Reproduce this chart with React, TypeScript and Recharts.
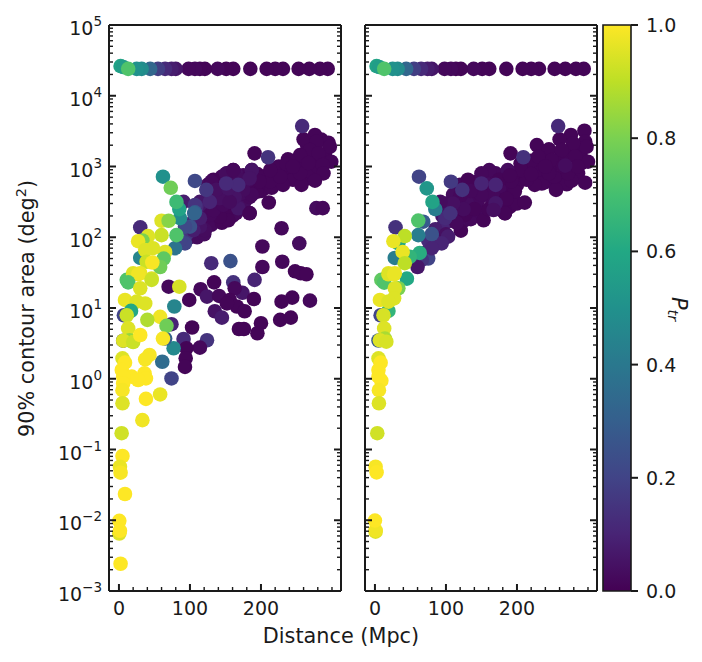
import React from "react";
import { ScatterChart, Scatter, XAxis, YAxis, ReferenceArea } from "recharts";

type Row = [number, number, number]; // distance Mpc, area deg2, P_tr

const topBand: Row[] = [
  [294, 24000, 0.01], [283, 24000, 0.01], [268, 24000, 0.01], [253, 24000, 0.01], [231, 24000, 0.01], [220, 24000, 0.01], [208, 24000, 0.01],
  [185, 24000, 0.01], [161, 24000, 0.01], [151, 24000, 0.01], [139, 24000, 0.02], [121, 24000, 0.01], [114, 24000, 0.01], [107, 24000, 0.02],
  [98, 24000, 0.02], [80, 24000, 0.06], [74, 24000, 0.08], [65, 24000, 0.12], [55, 24000, 0.18], [44, 24000, 0.33], [32, 24000, 0.48],
  [25, 24000, 0.5], [2.3, 26300, 0.58], [6, 25500, 0.55], [13, 24000, 0.72],
];

const leftFill: Row[] = [
  [120, 250, 0.03], [130, 350, 0.03], [140, 550, 0.02], [150, 650, 0.03], [160, 600, 0.04], [175, 750, 0.02], [185, 560, 0.02], [195, 780, 0.01], [205, 720, 0.01],
  [225, 850, 0.01], [240, 800, 0.01], [145, 720, 0.02], [165, 780, 0.04], [125, 370, 0.05], [110, 175, 0.04], [100, 100, 0.05], [135, 330, 0.03], [178, 330, 0.02],
  [150, 450, 0.05], [165, 480, 0.06], [180, 600, 0.03], [120, 200, 0.04], [135, 170, 0.02], [245, 1200, 0.01], [270, 1500, 0.01], [285, 1200, 0.01], [265, 2000, 0.01],
  [285, 2400, 0.01], [220, 650, 0.01], [245, 650, 0.01], [265, 680, 0.01], [270, 850, 0.01], [280, 1000, 0.01], [205, 490, 0.01], [160, 200, 0.02], [150, 195, 0.02],
  [125, 550, 0.03], [140, 400, 0.04], [115, 250, 0.06], [105, 170, 0.1], [130, 150, 0.02], [145, 160, 0.01], [110, 100, 0.03], [120, 110, 0.03], [95, 110, 0.15],
  [200, 450, 0.01], [215, 500, 0.01], [180, 480, 0.02], [190, 650, 0.02], [165, 420, 0.05], [155, 600, 0.04], [175, 580, 0.03], [150, 330, 0.04], [165, 220, 0.02],
  [175, 300, 0.03], [240, 1000, 0.01], [255, 1150, 0.01], [290, 1500, 0.01], [275, 1900, 0.01], [260, 1200, 0.01], [225, 1000, 0.01],
];

const leftUpper: Row[] = [
  [260, 2420, 0.01], [276, 2790, 0.01], [295, 2170, 0.01], [297, 1900, 0.01], [278, 2240, 0.01], [269, 1710, 0.01], [281, 1535, 0.01],
  [299, 1170, 0.01], [287, 1050, 0.01], [288, 800, 0.01], [255, 1450, 0.01], [238, 1260, 0.01], [236, 1085, 0.01], [191, 1535, 0.01],
  [276, 630, 0.01], [257, 550, 0.01], [231, 550, 0.01], [213, 615, 0.01], [255, 800, 0.01], [227, 718, 0.01], [245, 1000, 0.01],
  [267, 1120, 0.01], [213, 890, 0.01], [187, 890, 0.03], [161, 890, 0.02], [152, 800, 0.02], [133, 650, 0.01], [278, 258, 0.03],
  [287, 258, 0.02], [211, 310, 0.01], [184, 220, 0.01], [194, 440, 0.01], [198, 615, 0.01], [170, 650, 0.03], [152, 370, 0.04],
  [168, 270, 0.04], [138, 243, 0.03], [151, 243, 0.01], [184, 370, 0.02], [161, 370, 0.06], [172, 420, 0.03], [138, 440, 0.03],
  [154, 174, 0.01], [142, 195, 0.01], [128, 207, 0.02], [133, 243, 0.02], [147, 286, 0.02], [168, 257, 0.06], [184, 218, 0.01],
  [187, 398, 0.02], [175, 468, 0.03], [130, 611, 0.02], [151, 794, 0.03], [161, 890, 0.02], [187, 890, 0.05], [184, 676, 0.05],
  [163, 372, 0.05], [142, 355, 0.04], [156, 316, 0.03], [137, 468, 0.04], [154, 490, 0.05], [121, 126, 0.03], [114, 141, 0.05],
  [105, 126, 0.08], [114, 186, 0.08], [114, 316, 0.06], [91, 316, 0.08], [128, 316, 0.1], [168, 550, 0.12], [151, 575, 0.12],
  [123, 468, 0.16], [107, 625, 0.22], [109, 270, 0.12], [258, 3730, 0.12], [210, 1350, 0.15], [100, 141, 0.25], [93, 141, 0.22],
  [107, 286, 0.15], [93, 82, 0.2], [86, 91, 0.2], [79, 70, 0.38], [107, 225, 0.28], [106, 218, 0.32], [86, 186, 0.48],
  [62, 718, 0.5], [73, 500, 0.78], [85, 250, 0.58], [81, 316, 0.68],
];

const leftLower: Row[] = [
  [229, 134, 0.02], [254, 82, 0.03], [202, 74, 0.02], [230, 45, 0.02], [202, 38, 0.02], [130, 43, 0.12], [157, 46, 0.25], [248, 33, 0.01],
  [256, 31, 0.01], [264, 30, 0.01], [191, 25, 0.1], [161, 23, 0.14], [134, 23, 0.01], [115, 18.4, 0.02], [124, 14.5, 0.06], [141, 14.8, 0.02],
  [174, 16.4, 0.06], [163, 19, 0.02], [99, 13, 0.01], [156, 13, 0.01], [190, 13.4, 0.01], [244, 14, 0.01], [229, 12.3, 0.01], [269, 12.7, 0.02],
  [166, 10.5, 0.01], [152, 11.6, 0.01], [135, 9, 0.05], [177, 9, 0.01], [145, 7.3, 0.08], [227, 6.8, 0.01], [242, 7.3, 0.01], [200, 6.1, 0.01],
  [169, 5.05, 0.01], [176, 5.05, 0.01], [195, 4.4, 0.01], [103, 5.3, 0.01], [91, 3.65, 0.12], [124, 3.5, 0.15], [114, 2.75, 0.02], [95, 2.7, 0.01],
  [94, 1.95, 0.01], [93, 1.47, 0.01], [70, 20, 0.02], [74, 5.9, 0.1], [30, 138, 0.12], [78, 10.5, 0.45], [77, 2.7, 0.47], [61, 1.74, 0.35],
  [74, 1.01, 0.2], [65, 3.7, 0.3], [7, 7.9, 0.2], [6, 3.45, 0.25],
];

const leftYellow: Row[] = [
  [60, 171, 0.95], [70, 171, 0.82], [81, 107, 0.72], [60, 107, 0.92], [41, 104, 0.95], [33, 90, 0.8], [27, 88, 0.97], [30, 51, 0.45], [65, 62, 0.95],
  [48, 70, 0.95], [37, 66, 0.95], [63, 50, 0.75], [58, 38, 0.78], [39, 45, 0.92], [47, 44, 0.99], [20, 31, 0.96], [30, 31, 0.97], [46, 26, 0.95],
  [11, 25, 0.72], [85, 20, 0.94], [46, 25, 0.92], [20, 30, 0.95], [27, 30, 0.98], [13, 23, 0.72], [30, 19, 0.95], [8.5, 13, 0.97], [25, 12.3, 0.95],
  [37, 11.6, 0.95], [17, 9.1, 0.6], [11, 7.9, 0.92], [58, 7.5, 0.98], [40, 6.8, 0.88], [67, 5.6, 0.78], [13, 5.15, 0.95], [15, 3.5, 0.84],
  [6, 3.45, 0.95], [20, 3.3, 0.92], [30, 4.15, 1], [62, 3.7, 0.99], [43, 2.17, 0.99], [37, 1.88, 0.99], [5, 1.94, 0.95], [8.5, 1.69, 1],
  [4, 1.33, 1], [36, 1.19, 1], [38, 1.01, 1], [27, 0.96, 1], [18, 1.07, 1], [6, 1.07, 1], [6, 0.86, 1], [5, 0.69, 0.99],
  [58, 0.6, 0.97], [38, 0.52, 1], [5, 0.45, 0.95], [33, 0.26, 0.98], [3.8, 0.17, 0.93], [5, 0.081, 1], [1.4, 0.057, 0.97], [2.3, 0.047, 0.99],
  [8.5, 0.0235, 1], [0.5, 0.0098, 1], [0.5, 0.0065, 0.95], [1.4, 0.0071, 1], [2.3, 0.00243, 1],
];

const rightFill: Row[] = [
  [100, 300, 0.04], [110, 400, 0.03], [120, 550, 0.02], [130, 400, 0.03], [140, 600, 0.02], [150, 700, 0.02], [160, 600, 0.03], [170, 800, 0.02], [180, 600, 0.02],
  [190, 450, 0.01], [200, 550, 0.01], [210, 800, 0.01], [215, 1000, 0.01], [225, 950, 0.01], [230, 700, 0.01], [240, 600, 0.01], [250, 600, 0.01], [260, 650, 0.01],
  [270, 560, 0.01], [280, 900, 0.01], [290, 1100, 0.01], [235, 1200, 0.01], [255, 1100, 0.01], [240, 1500, 0.01], [260, 1300, 0.01], [275, 1500, 0.01], [285, 1700, 0.01],
  [290, 1400, 0.01], [220, 1200, 0.01], [205, 1100, 0.01], [195, 800, 0.01], [175, 500, 0.02], [160, 480, 0.02], [145, 330, 0.02], [130, 300, 0.03], [115, 220, 0.05],
  [105, 170, 0.07], [95, 140, 0.1], [90, 100, 0.14], [85, 80, 0.18], [125, 170, 0.03], [135, 180, 0.02], [150, 220, 0.02], [175, 250, 0.01], [190, 270, 0.01],
  [200, 300, 0.01], [180, 330, 0.01], [165, 330, 0.02], [70, 60, 0.1], [75, 90, 0.12], [85, 130, 0.08], [95, 200, 0.06], [75, 50, 0.2], [105, 250, 0.05],
];

const rightUpper: Row[] = [
  [295, 3200, 0.01], [276, 2790, 0.01], [260, 2420, 0.01], [296, 2240, 0.01], [298, 1900, 0.01], [279, 2120, 0.01], [228, 2010, 0.01], [245, 1750, 0.01],
  [191, 1535, 0.01], [300, 1170, 0.01], [263, 1710, 0.01], [249, 1230, 0.01], [230, 1380, 0.01], [282, 1380, 0.01], [286, 800, 0.01], [296, 590, 0.01],
  [277, 630, 0.01], [255, 468, 0.01], [235, 575, 0.01], [225, 550, 0.01], [214, 650, 0.01], [253, 718, 0.01], [272, 800, 0.01], [206, 890, 0.01],
  [245, 800, 0.01], [240, 1000, 0.01], [220, 780, 0.01], [265, 1000, 0.01], [285, 1000, 0.01], [268, 1030, 0.03], [187, 890, 0.03], [161, 890, 0.02],
  [150, 800, 0.02], [131, 650, 0.01], [211, 309, 0.01], [183, 219, 0.01], [197, 442, 0.01], [192, 617, 0.01], [175, 650, 0.01], [190, 750, 0.01],
  [185, 350, 0.01], [165, 400, 0.02], [150, 400, 0.02], [135, 450, 0.02], [120, 380, 0.02], [153, 174, 0.01], [127, 207, 0.01], [183, 218, 0.01],
  [140, 250, 0.01], [160, 250, 0.01], [170, 302, 0.06], [167, 243, 0.04], [121, 124, 0.01], [115, 160, 0.02], [100, 110, 0.04], [125, 250, 0.03],
  [110, 300, 0.04], [92, 316, 0.03], [150, 575, 0.1], [170, 550, 0.1], [123, 468, 0.14], [99, 186, 0.12], [106, 218, 0.14], [103, 102, 0.08], [94, 82, 0.1],
  [80, 70, 0.1], [66, 48, 0.15], [60, 38, 0.06], [29, 138, 0.14], [258, 3730, 0.12], [209, 1350, 0.14], [107, 610, 0.17], [62, 718, 0.2], [68, 166, 0.28],
  [80, 111, 0.25], [85, 250, 0.42], [61, 107, 0.42], [73, 490, 0.52], [81, 316, 0.58], [63, 60, 0.62], [61, 172, 0.72],
];

const rightYellow: Row[] = [
  [28, 51, 0.42], [33, 82, 0.6], [49, 53, 0.65], [45, 26, 0.6], [42, 104, 0.9], [26, 88, 0.97], [39, 62, 0.97], [42, 43, 0.9], [19, 31, 0.97], [28, 31, 0.97],
  [9, 25, 0.75], [13, 22.8, 0.72], [19, 30, 0.95], [27, 30, 0.97], [33, 19, 0.8], [28, 19, 0.95], [19, 9.1, 0.65], [8, 7.9, 0.2], [7, 13, 0.97], [27, 13.7, 0.95],
  [19, 12.3, 0.95], [12, 7.9, 0.94], [13, 5.15, 0.95], [5, 3.47, 0.28], [14, 3.7, 0.87], [7, 3.5, 0.95], [16, 3.34, 0.94], [5, 1.94, 0.95], [8, 1.69, 1],
  [5, 1.33, 1], [5, 1.07, 1], [9, 0.94, 1], [5.6, 0.69, 0.99], [5.6, 0.45, 0.95], [3.3, 0.17, 0.93], [0.9, 0.057, 0.99], [2.3, 0.0475, 1],
  [0.9, 0.0069, 0.95], [0.9, 0.0072, 0.98], [0, 0.0099, 1],
];

const viridisStops = ["#440154", "#482475", "#414487", "#355f8d", "#2a788e", "#21918c", "#22a884", "#44bf70", "#7ad151", "#bddf26", "#fde725"];

const decades = [-3, -2, -1, 0, 1, 2, 3, 4, 5];
const minorMultiples = [2, 3, 4, 5, 6, 7, 8, 9];
const yTicks: number[] = [];
decades.forEach((e) => {
  yTicks.push(Math.pow(10, e));
  if (e < 5) minorMultiples.forEach((m) => yTicks.push(m * Math.pow(10, e)));
});
const xMajor = [0, 100, 200];
const xTicks = [0, 20, 40, 60, 80, 100, 120, 140, 160, 180, 200, 220, 240, 260, 280, 300];
const cbTicks = [0, 0.2, 0.4, 0.6, 0.8, 1];

const FONT = "'DejaVu Sans', sans-serif";
const INK = "#1a1a1a";
const FS = 19;
const LFS = 20.8;

function hexToRgb(h: string) {
  return [1, 3, 5].map((i) => parseInt(h.slice(i, i + 2), 16));
}
function viridis(p: number) {
  const t = Math.max(0, Math.min(1, p)) * (viridisStops.length - 1);
  const i = Math.min(Math.floor(t), viridisStops.length - 2);
  const a = hexToRgb(viridisStops[i]);
  const b = hexToRgb(viridisStops[i + 1]);
  const c = a.map((v, k) => Math.round(v + (b[k] - v) * (t - i)));
  return `rgb(${c[0]},${c[1]},${c[2]})`;
}

const Dot = (props: any) => (
  <circle cx={props.cx} cy={props.cy} r={7.3} fill={viridis(props.payload.p)} />
);

const isMajorY = (v: number) => {
  const l = Math.log10(v);
  return Math.abs(l - Math.round(l)) < 1e-6;
};

const HTick = ({ x, y, len, major }: any) => {
  const t = major ? 2 : 1.4;
  return <rect x={len > 0 ? x : x + len} y={y - t / 2} width={Math.abs(len)} height={t} fill={INK} />;
};
const VTick = ({ x, y, len, major }: any) => {
  const t = major ? 2 : 1.4;
  return <rect x={x - t / 2} y={len > 0 ? y : y + len} width={t} height={Math.abs(len)} fill={INK} />;
};

const yTickLeft = (labels: boolean) => (props: any) => {
  const { x, y, payload } = props;
  const major = isMajorY(payload.value);
  const exp = Math.round(Math.log10(payload.value));
  return (
    <g>
      <HTick x={x} y={y} len={major ? 7 : 4} major={major} />
      {labels && major ? (
        <text x={x - 7} y={y + 10} textAnchor="end" fontFamily={FONT} fontSize={FS} fill={INK}>
          10
          <tspan dy={-9} fontSize={13.5}>{exp < 0 ? `\u2212${-exp}` : `${exp}`}</tspan>
        </text>
      ) : null}
    </g>
  );
};
const yTickRight = (props: any) => {
  const { x, y, payload } = props;
  const major = isMajorY(payload.value);
  return <g><HTick x={x} y={y} len={major ? -7 : -4} major={major} /></g>;
};
const xTickBottom = (props: any) => {
  const { x, y, payload } = props;
  const major = xMajor.includes(payload.value);
  return (
    <g>
      <VTick x={x} y={y} len={major ? -7 : -4} major={major} />
      {major ? (
        <text x={x} y={y + 24} textAnchor="middle" fontFamily={FONT} fontSize={FS} fill={INK}>{payload.value}</text>
      ) : null}
    </g>
  );
};
const xTickTop = (props: any) => {
  const { x, y, payload } = props;
  const major = xMajor.includes(payload.value);
  return <g><VTick x={x} y={y} len={major ? 7 : 4} major={major} /></g>;
};
const cbTick = (props: any) => {
  const { x, y, payload } = props;
  return (
    <g>
      <HTick x={x} y={y} len={7} major />
      <text x={x + 15} y={y + 7} fontFamily={FONT} fontSize={FS} fill={INK}>{payload.value.toFixed(1)}</text>
    </g>
  );
};

const layer: React.CSSProperties = { position: "absolute", left: 0, top: 0 };
const XD: [number, number] = [-14, 312.7];
const YD: [number, number] = [0.001, 100000];
const axisLine = { stroke: INK, strokeWidth: 2 };

function Panel({ rows, margin, labels }: { rows: Row[]; margin: any; labels: boolean }) {
  const data = rows.map(([d, a, p]) => ({ d, a, p }));
  return (
    <div style={layer}>
      <ScatterChart width={702} height={662} margin={margin}>
        <XAxis xAxisId="b" dataKey="d" type="number" domain={XD} ticks={xTicks} interval={0} height={1} tickSize={0} tickMargin={0} tickLine={false} axisLine={axisLine} tick={xTickBottom} allowDataOverflow />
        <XAxis xAxisId="t" orientation="top" type="number" domain={XD} ticks={xTicks} interval={0} height={1} tickSize={0} tickMargin={0} tickLine={false} axisLine={axisLine} tick={xTickTop} allowDataOverflow />
        <YAxis yAxisId="l" dataKey="a" type="number" scale="log" domain={YD} ticks={yTicks} interval={0} width={1} tickSize={0} tickMargin={0} tickLine={false} axisLine={axisLine} tick={yTickLeft(labels)} allowDataOverflow />
        <YAxis yAxisId="r" orientation="right" type="number" scale="log" domain={YD} ticks={yTicks} interval={0} width={1} tickSize={0} tickMargin={0} tickLine={false} axisLine={axisLine} tick={yTickRight} allowDataOverflow />
        <Scatter xAxisId="b" yAxisId="l" data={data} shape={Dot} isAnimationActive={false} />
      </ScatterChart>
    </div>
  );
}

const cbData = cbTicks.map((v) => ({ x: 0.5, y: v }));

export default function App() {
  return (
    <div style={{ ...layer, width: 702, height: 662, background: "#fff" }}>
      <svg width={702} height={662} style={layer}>
        <defs>
          <linearGradient id="viridisBar" x1="0" y1="1" x2="0" y2="0">
            {viridisStops.map((c, i) => (
              <stop key={c} offset={i / (viridisStops.length - 1)} stopColor={c} />
            ))}
          </linearGradient>
        </defs>
        <text transform="translate(34,437) rotate(-90)" fontFamily={FONT} fontSize={LFS} fill={INK}>
          90% contour area (deg
          <tspan dy={-8} fontSize={14.5}>2</tspan>
          <tspan dy={8}>)</tspan>
        </text>
        <text x={341} y={643} textAnchor="middle" fontFamily={FONT} fontSize={LFS} fill={INK}>Distance (Mpc)</text>
        <text transform="translate(672,297) rotate(90)" fontFamily={FONT} fontSize={LFS} fontStyle="italic" fill={INK}>
          P<tspan dy={4} fontSize={14.5}>tr</tspan>
        </text>
      </svg>
      <Panel rows={[...leftFill, ...leftUpper, ...leftLower, ...leftYellow, ...topBand]} margin={{ top: 24, left: 108, right: 360, bottom: 70 }} labels />
      <Panel rows={[...rightFill, ...rightUpper, ...rightYellow, ...topBand]} margin={{ top: 24, left: 364, right: 104, bottom: 70 }} labels={false} />
      <div style={layer}>
        <ScatterChart width={702} height={662} margin={{ top: 25, left: 603, right: 70, bottom: 71 }}>
          <XAxis xAxisId="c" dataKey="x" type="number" domain={[0, 1]} height={0} tick={false} axisLine={false} tickLine={false} />
          <YAxis yAxisId="c" dataKey="y" orientation="right" type="number" domain={[0, 1]} ticks={cbTicks} interval={0} width={1} tickSize={0} tickMargin={0} tickLine={false} axisLine={false} tick={cbTick} />
          <ReferenceArea xAxisId="c" yAxisId="c" x1={0} x2={1} y1={0} y2={1} fill="url(#viridisBar)" fillOpacity={1} stroke={INK} strokeWidth={1.6} />
          <Scatter xAxisId="c" yAxisId="c" data={cbData} shape={() => <g />} isAnimationActive={false} />
        </ScatterChart>
      </div>
    </div>
  );
}
